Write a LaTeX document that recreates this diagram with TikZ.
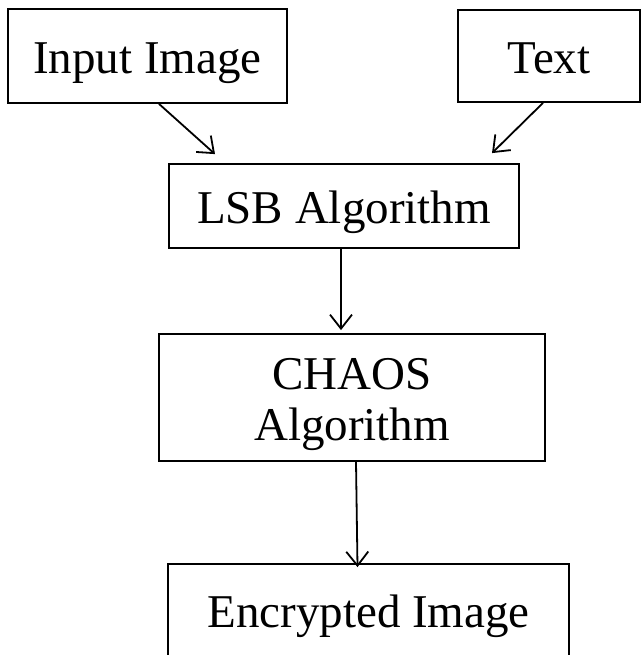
\documentclass[tikz,border=0pt]{standalone}
\usepackage{fontspec}
\setmainfont{Liberation Serif}
\usetikzlibrary{arrows.meta}
\begin{document}
\begin{tikzpicture}[x=1pt,y=-1pt,
  box/.style={draw, line width=1.8pt, inner sep=0pt, text height=36pt, text depth=0pt,
    font=\fontsize{47}{51}\selectfont, align=center},
  arr/.style={line width=1.8pt, -{Straight Barb[length=14pt,width=22pt,line width=1.8pt]}}]
\useasboundingbox (0,0) rectangle (641,655);
\clip (0,0) rectangle (641,655);
\node[box, minimum width=279pt, minimum height=94pt] (in) at (147.5,56) {Input Image};
\node[box, minimum width=182pt, minimum height=92pt] (txt) at (549,56) {Text};
\node[box, minimum width=350pt, minimum height=84pt, text depth=2pt] (lsb) at (344,206) {LSB Algorithm};
\node[box, minimum width=386pt, minimum height=127pt, text height=87pt, text depth=2pt] (chaos) at (352,397.5) {CHAOS\\Algorithm};
\node[box, minimum width=401pt, minimum height=106pt, text height=20pt] (enc) at (368.5,617) {Encrypted Image};
\draw[arr] ([shift={(11.5,0)}]in.south) -- ([shift={(-129,-9)}]lsb.north);
\draw[arr] ([shift={(-6,0)}]txt.south) -- ([shift={(148,-10)}]lsb.north);
\draw[arr] ([shift={(-3,0)}]lsb.south) -- ([shift={(-11,-3)}]chaos.north);
\draw[arr] ([shift={(4,0)}]chaos.south) -- ([shift={(-11,4)}]enc.north);
\end{tikzpicture}
\end{document}
